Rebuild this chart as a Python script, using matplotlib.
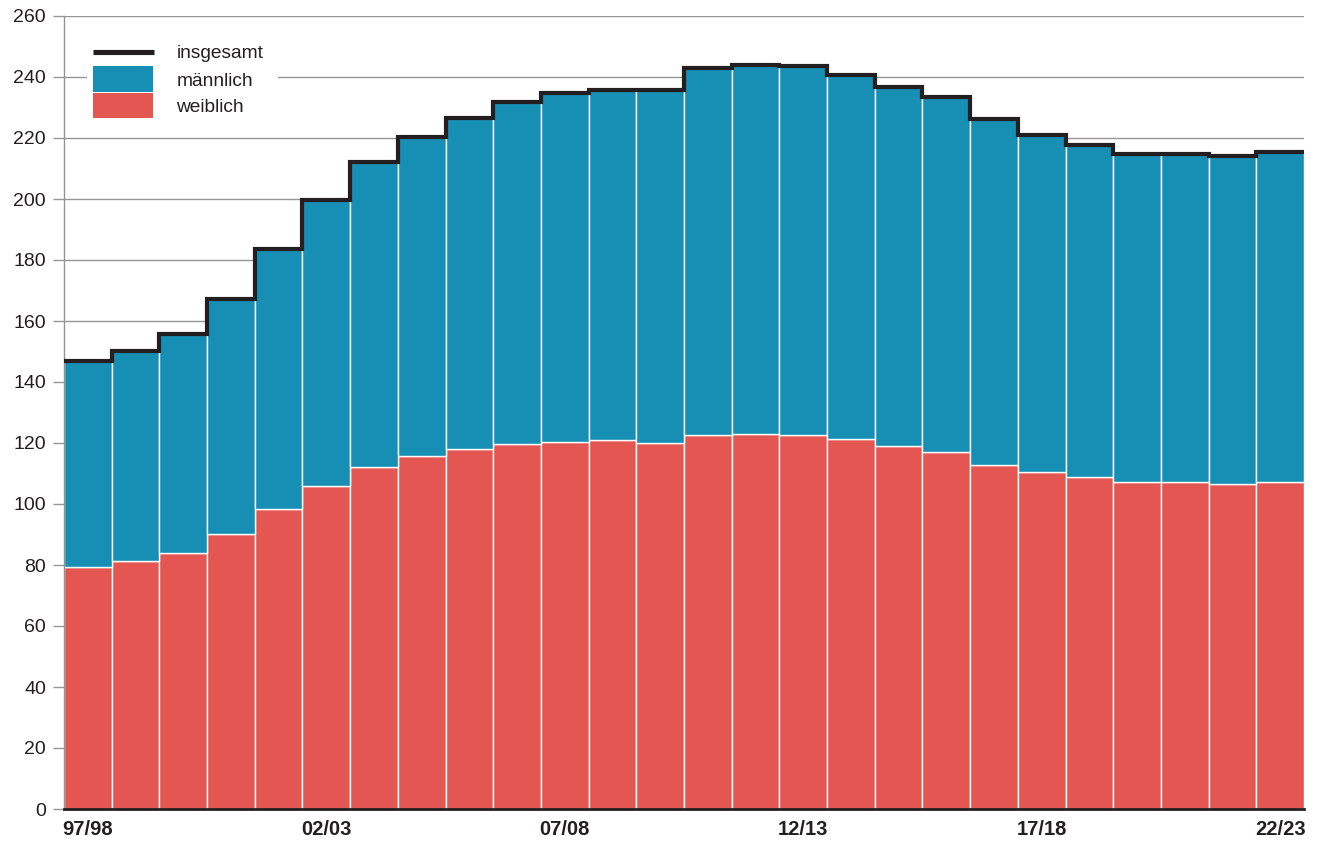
import numpy as np
import matplotlib
matplotlib.use("Agg")
import matplotlib.pyplot as plt
from matplotlib.patches import Rectangle
from matplotlib.lines import Line2D

years = ["97/98", "98/99", "99/00", "00/01", "01/02", "02/03", "03/04", "04/05",
         "05/06", "06/07", "07/08", "08/09", "09/10", "10/11", "11/12", "12/13",
         "13/14", "14/15", "15/16", "16/17", "17/18", "18/19", "19/20", "20/21",
         "21/22", "22/23"]
weiblich = [79.4, 81.3, 84.0, 90.2, 98.3, 106.0, 112.0, 115.7, 117.9, 119.7,
            120.4, 121.0, 120.0, 122.7, 122.8, 122.6, 121.2, 119.0, 117.2, 112.9,
            110.5, 109.0, 107.2, 107.1, 106.6, 107.1]
maennlich = [67.6, 68.7, 71.6, 77.0, 85.2, 93.7, 100.0, 104.5, 108.5, 112.0,
             114.4, 114.8, 115.8, 120.4, 121.0, 121.0, 119.5, 117.8, 116.3, 113.2,
             110.5, 108.6, 107.5, 107.7, 107.4, 108.3]
legend_labels = ["insgesamt", "männlich", "weiblich"]
label_every = 5

BLUE = "#178EB3"
RED = "#E35651"
DARK = "#231F20"
GRID = "#959595"

plt.rcParams['font.family'] = ['Liberation Sans', 'DejaVu Sans']

W, H = 1319, 842
AX_L, AX_R, AX_T, AX_B = 64, 1304, 16, 809
fig = plt.figure(figsize=(W / 100, H / 100), dpi=100)
ax = fig.add_axes([AX_L / W, (H - AX_B) / H, (AX_R - AX_L) / W, (AX_B - AX_T) / H])

x = np.arange(len(years))
w = np.array(weiblich)
m = np.array(maennlich)
total = w + m

ax.bar(x, w, width=1.0, color=RED, edgecolor="white", linewidth=1.0, zorder=2)
ax.bar(x, m, bottom=w, width=1.0, color=BLUE, edgecolor="white", linewidth=1.0, zorder=2)
edges = np.arange(len(years) + 1) - 0.5
ax.stairs(total, edges, baseline=None, color=DARK, linewidth=3.0, zorder=3)

ax.set_xlim(-0.5, len(years) - 0.5)
ax.set_ylim(0, 260)
ax.set_yticks(np.arange(0, 261, 20))
ax.yaxis.grid(True, color=GRID, linewidth=1.0, zorder=0)
ax.set_axisbelow(True)

ticks = x[::label_every]
ax.set_xticks(ticks)
ax.set_xticklabels([years[i] for i in ticks], fontweight="bold", fontsize=14.5, color=DARK)
ax.tick_params(axis="x", length=0, pad=8)
ax.tick_params(axis="y", length=8, width=1.0, color=GRID, labelsize=14, labelcolor=DARK, pad=5)

for s in ["top", "right"]:
    ax.spines[s].set_visible(False)
ax.spines["left"].set_color(GRID)
ax.spines["left"].set_linewidth(1.0)
ax.spines["bottom"].set_color(DARK)
ax.spines["bottom"].set_linewidth(2.0)
ax.spines["bottom"].set_zorder(4)

# legend drawn in axes-fraction coordinates (converted from pixel layout)
def ax_xy(px, py):
    return (px - AX_L) / (AX_R - AX_L), (AX_B - py) / (AX_B - AX_T)

def ax_wh(pw, ph):
    return pw / (AX_R - AX_L), ph / (AX_B - AX_T)

tr = ax.transAxes
bx, by = ax_xy(87, 122)
bw, bh = ax_wh(278 - 87, 122 - 36)
ax.add_patch(Rectangle((bx, by), bw, bh, transform=tr, facecolor="white",
                       edgecolor="none", zorder=5, clip_on=False))
lx0, ly = ax_xy(93, 51.7)
lx1, _ = ax_xy(154, 51.7)
ax.add_line(Line2D([lx0, lx1], [ly, ly], transform=tr, color=DARK, linewidth=3.7,
                   solid_capstyle="butt", zorder=6))
px0, py0 = ax_xy(93, 91.7)
pw, ph = ax_wh(60, 25.7)
ax.add_patch(Rectangle((px0, py0), pw, ph, transform=tr, facecolor=BLUE,
                       edgecolor="none", zorder=6))
px0, py0 = ax_xy(93, 118.3)
ax.add_patch(Rectangle((px0, py0), pw, ph, transform=tr, facecolor=RED,
                       edgecolor="none", zorder=6))
for lab, base in zip(legend_labels, [58.3, 85.7, 111.7]):
    tx, ty = ax_xy(176.5, base)
    ax.text(tx, ty, lab, transform=tr, fontsize=13.8, color=DARK,
            va="baseline", ha="left", zorder=7)

fig.savefig("out.png", dpi=100)
